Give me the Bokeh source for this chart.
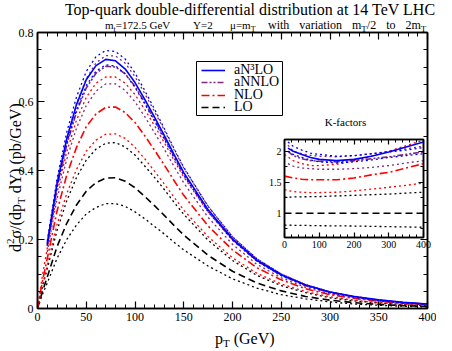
from bokeh.plotting import figure
from bokeh.models import (Range1d, LinearAxis, SingleIntervalTicker, Label,
                          Legend, LegendItem, CustomJSTickFormatter, Div, BoxAnnotation)
from bokeh.embed import file_html
from bokeh.resources import INLINE

# ---------------- data ----------------
PT = [0, 5, 10, 20, 30, 40, 50, 60, 70, 80, 90, 100, 110, 120, 130, 140, 150,
      175, 200, 225, 250, 275, 300, 325, 350, 375, 400]
PT_RES = [10, 20, 30, 40, 50, 60, 70, 80, 90, 100, 110, 120, 130, 140, 150,
          175, 200, 225, 250, 275, 300, 325, 350, 375, 400]

LO = [0, 0.049, 0.091, 0.179, 0.247, 0.300, 0.340, 0.365, 0.378, 0.379, 0.369,
      0.350, 0.325, 0.298, 0.270, 0.241, 0.213, 0.154, 0.108, 0.074, 0.051,
      0.035, 0.024, 0.017, 0.012, 0.0084, 0.0061]
LO_DN = [0, 0.040, 0.074, 0.145, 0.200, 0.242, 0.274, 0.293, 0.304, 0.304,
         0.296, 0.280, 0.260, 0.238, 0.216, 0.192, 0.170, 0.123, 0.086, 0.059,
         0.040, 0.028, 0.019, 0.013, 0.0094, 0.0065, 0.0047]
LO_UP = [0, 0.062, 0.115, 0.226, 0.312, 0.380, 0.430, 0.462, 0.479, 0.481,
         0.468, 0.445, 0.413, 0.380, 0.345, 0.308, 0.273, 0.198, 0.139, 0.096,
         0.066, 0.046, 0.031, 0.022, 0.016, 0.011, 0.0082]
NLO = [0, 0.078, 0.145, 0.282, 0.387, 0.467, 0.527, 0.564, 0.583, 0.584, 0.568,
       0.539, 0.501, 0.459, 0.416, 0.371, 0.328, 0.239, 0.170, 0.118, 0.083,
       0.057, 0.040, 0.029, 0.021, 0.015, 0.011]
NLO_UP = [0, 0.095, 0.174, 0.335, 0.454, 0.546, 0.612, 0.653, 0.671, 0.671,
          0.653, 0.620, 0.577, 0.530, 0.481, 0.430, 0.381, 0.280, 0.199, 0.139,
          0.098, 0.069, 0.048, 0.035, 0.025, 0.018, 0.013]
NLO_DN = [0, 0.067, 0.125, 0.243, 0.333, 0.403, 0.456, 0.488, 0.505, 0.506,
          0.493, 0.467, 0.434, 0.398, 0.361, 0.323, 0.285, 0.208, 0.147, 0.102,
          0.071, 0.049, 0.034, 0.024, 0.017, 0.012, 0.0091]
ANNLO = [0.182, 0.350, 0.474, 0.570, 0.639, 0.682, 0.702, 0.700, 0.680, 0.644,
         0.597, 0.547, 0.495, 0.442, 0.390, 0.283, 0.200, 0.138, 0.096, 0.066,
         0.046, 0.033, 0.023, 0.017, 0.012]
ANNLO_UP = [0.191, 0.364, 0.492, 0.593, 0.666, 0.712, 0.733, 0.732, 0.711,
            0.672, 0.623, 0.571, 0.517, 0.461, 0.407, 0.296, 0.208, 0.144,
            0.100, 0.069, 0.048, 0.034, 0.024, 0.017, 0.013]
ANNLO_DN = [0.164, 0.317, 0.433, 0.523, 0.588, 0.630, 0.651, 0.651, 0.632,
            0.599, 0.556, 0.510, 0.462, 0.412, 0.364, 0.264, 0.186, 0.128,
            0.089, 0.061, 0.042, 0.030, 0.022, 0.015, 0.011]
AN3LO = [0.187, 0.361, 0.492, 0.591, 0.663, 0.704, 0.722, 0.718, 0.694, 0.655,
         0.606, 0.555, 0.502, 0.447, 0.394, 0.286, 0.202, 0.140, 0.098, 0.068,
         0.048, 0.035, 0.025, 0.018, 0.013]
AN3LO_UP = [0.196, 0.376, 0.511, 0.613, 0.687, 0.730, 0.748, 0.745, 0.723,
            0.683, 0.632, 0.578, 0.522, 0.464, 0.409, 0.296, 0.208, 0.144,
            0.100, 0.069, 0.048, 0.034, 0.024, 0.017, 0.013]
AN3LO_DN = [0.182, 0.352, 0.479, 0.576, 0.646, 0.688, 0.706, 0.703, 0.680,
            0.641, 0.593, 0.543, 0.491, 0.437, 0.386, 0.280, 0.198, 0.137,
            0.095, 0.066, 0.046, 0.033, 0.023, 0.016, 0.012]

# inset: K-factors (ratio to LO central)
K_PT_RES = [10, 25, 50, 75, 100, 150, 200, 250, 300, 350, 400]
K_PT_FO = [0, 25, 50, 75, 100, 150, 200, 250, 300, 350, 400]
K_AN3LO = [2.05, 2.0, 1.95, 1.90, 1.87, 1.85, 1.87, 1.92, 1.99, 2.07, 2.15]
K_AN3LO_UP = [2.15, 2.08, 2.02, 1.97, 1.95, 1.92, 1.93, 1.96, 1.99, 2.02, 2.06]
K_AN3LO_DN = [2.0, 1.95, 1.90, 1.86, 1.83, 1.81, 1.83, 1.86, 1.90, 1.93, 1.96]
K_ANNLO = [2.0, 1.93, 1.88, 1.85, 1.84, 1.83, 1.85, 1.88, 1.91, 1.95, 1.99]
K_ANNLO_UP = [2.1, 2.0, 1.96, 1.935, 1.92, 1.91, 1.93, 1.96, 2.0, 2.04, 2.08]
K_ANNLO_DN = [1.8, 1.76, 1.73, 1.72, 1.71, 1.71, 1.72, 1.74, 1.77, 1.81, 1.85]
K_NLO = [1.6, 1.57, 1.55, 1.54, 1.54, 1.54, 1.57, 1.62, 1.66, 1.73, 1.80]
K_NLO_UP = [1.95, 1.85, 1.80, 1.77, 1.77, 1.79, 1.84, 1.92, 2.0, 2.09, 2.18]
K_NLO_DN = [1.38, 1.35, 1.34, 1.335, 1.335, 1.34, 1.36, 1.39, 1.42, 1.45, 1.49]
K_LO = [1.0, 1.0, 1.0, 1.0, 1.0, 1.0, 1.0, 1.0, 1.0, 1.0, 1.0]
K_LO_UP = [1.26, 1.263, 1.266, 1.268, 1.27, 1.28, 1.29, 1.30, 1.31, 1.325, 1.34]
K_LO_DN = [0.81, 0.807, 0.805, 0.803, 0.80, 0.798, 0.795, 0.79, 0.785, 0.78, 0.775]

LEGEND_LABELS = ["aN\u00b3LO", "aNNLO", "NLO", "LO"]

# ---------------- styles ----------------
SERIF = "Liberation Serif"
BLUE, RED, PURPLE, BLACK = "#0000ff", "#ff0000", "#7d2a7d", "#000000"
DOT = "2 3"
DASH = "7 4"
DASHDOT = "8 3 2 3"
DASHDOTDOT = "6 2 2 2 2 2"

# main frame position on the page (image px)
FL, FR, FT, FB = 45, 435, 40, 316


def dx(x):
    return (x - FL) * 400.0 / (FR - FL)


def dy(y):
    return (FB - y) * 0.8 / (FB - FT)


def style_axis(ax, tin, mtin, size, show=True, standoff=4):
    ax.axis_line_color = "black"
    ax.axis_line_width = 1.5
    ax.major_tick_in = tin
    ax.major_tick_out = 0
    ax.minor_tick_in = mtin
    ax.minor_tick_out = 0
    ax.major_tick_line_color = "black"
    ax.minor_tick_line_color = "black"
    ax.major_tick_line_width = 1.2
    ax.minor_tick_line_width = 1
    ax.major_label_text_font = SERIF
    ax.major_label_text_font_size = size
    ax.major_label_text_color = "black"
    ax.major_label_standoff = standoff
    if not show:
        ax.formatter = CustomJSTickFormatter(code="return ''")
        ax.major_label_standoff = 0


p = figure(width=436, height=335, x_range=Range1d(0, 400), y_range=Range1d(0, 0.8),
           output_backend="svg", toolbar_location=None,
           min_border_left=FL - 8, min_border_right=444 - FR,
           min_border_top=FT - 8, min_border_bottom=343 - FB,
           x_axis_type=None, y_axis_type=None)
p.outline_line_color = "black"
p.outline_line_width = 1.5
p.background_fill_color = "white"
p.border_fill_color = "white"

xt = SingleIntervalTicker(interval=50, num_minor_ticks=5)
yt = SingleIntervalTicker(interval=0.2, num_minor_ticks=4)
for side, tk, show in [("below", xt, True), ("above", xt, False),
                       ("left", yt, True), ("right", yt, False)]:
    ax = LinearAxis(ticker=tk)
    style_axis(ax, 7, 4, "12px", show)
    if side == "left":
        ax.major_label_overrides = {0: "0"}
    p.add_layout(ax, side)

W_DOT, W_MAIN = 1.3, 1.6
p.line(PT, LO_DN, line_color=BLACK, line_dash=DOT, line_width=W_DOT)
p.line(PT, LO_UP, line_color=BLACK, line_dash=DOT, line_width=W_DOT)
r_lo = p.line(PT, LO, line_color=BLACK, line_dash=DASH, line_width=W_MAIN)
p.line(PT, NLO_DN, line_color=RED, line_dash=DOT, line_width=W_DOT)
p.line(PT, NLO_UP, line_color=RED, line_dash=DOT, line_width=W_DOT)
r_nlo = p.line(PT, NLO, line_color=RED, line_dash=DASHDOT, line_width=W_MAIN)
p.line(PT_RES, ANNLO_DN, line_color=PURPLE, line_dash=DOT, line_width=W_DOT)
p.line(PT_RES, ANNLO_UP, line_color=PURPLE, line_dash=DOT, line_width=W_DOT)
r_annlo = p.line(PT_RES, ANNLO, line_color=PURPLE, line_dash=DASHDOTDOT, line_width=W_MAIN)
p.line(PT_RES, AN3LO_DN, line_color=BLUE, line_dash=DOT, line_width=W_DOT)
p.line(PT_RES, AN3LO_UP, line_color=BLUE, line_dash=DOT, line_width=W_DOT)
r_an3lo = p.line(PT_RES, AN3LO, line_color=BLUE, line_width=W_MAIN)

# legend frame (box drawn separately so the rows can sit tightly)
LB_L, LB_R, LB_T, LB_B = 204, 290, 69, 123
p.add_layout(BoxAnnotation(left=dx(LB_L), right=dx(LB_R), top=dy(LB_T), bottom=dy(LB_B),
                           fill_color="white", fill_alpha=1.0,
                           line_color="black", line_width=1, line_alpha=1.0))

# one borderless legend per row, so the rows can be set about 12.4 px apart
ROW_H = 20
ROW_CENTERS = [78, 90.4, 102.8, 115.2]
for lbl, rend, cy in zip(LEGEND_LABELS, [r_an3lo, r_annlo, r_nlo, r_lo], ROW_CENTERS):
    lg = Legend(items=[LegendItem(label=lbl, renderers=[rend])],
                location=(209 - FL, int(round(FB - (cy + ROW_H / 2)))))
    lg.border_line_color = None
    lg.background_fill_alpha = 0
    lg.label_text_font = SERIF
    lg.label_text_font_size = "14px"
    lg.label_text_color = "black"
    lg.glyph_width = 24
    lg.glyph_height = ROW_H
    lg.label_height = ROW_H
    lg.label_standoff = 9
    lg.padding = 0
    lg.spacing = 0
    lg.margin = 0
    p.add_layout(lg, "center")

# inset title (inside the main frame)
p.add_layout(Label(x=dx(353), y=dy(129), text="K-factors", text_font=SERIF,
                   text_font_size="11px", text_align="center",
                   text_baseline="alphabetic", text_color="black"))

# ---------------- inset ----------------
IL, IR, IT, IB = 284, 423, 139, 237
q_left, q_top = IL - 22, IT - 4
q = figure(width=22 + (IR - IL) + 10, height=4 + (IB - IT) + 16,
           x_range=Range1d(0, 400), y_range=Range1d(0.61, 2.19),
           output_backend="svg", toolbar_location=None,
           min_border_left=22, min_border_right=10, min_border_top=4, min_border_bottom=16,
           x_axis_type=None, y_axis_type=None,
           styles={"position": "absolute", "left": f"{q_left}px", "top": f"{q_top}px"})
q.outline_line_color = "black"
q.outline_line_width = 1.5
q.background_fill_color = "white"
q.border_fill_color = None

ixt = SingleIntervalTicker(interval=100, num_minor_ticks=5)
iyt = SingleIntervalTicker(interval=0.5, num_minor_ticks=2)
for side, tk, show in [("below", ixt, True), ("above", ixt, False),
                       ("left", iyt, True), ("right", iyt, False)]:
    ax = LinearAxis(ticker=tk)
    style_axis(ax, 5, 3, "10px", show, standoff=3)
    if side == "left":
        ax.major_label_overrides = {1: "1", 2: "2"}
    q.add_layout(ax, side)

q.line(K_PT_FO, K_LO_DN, line_color=BLACK, line_dash=DOT, line_width=W_DOT)
q.line(K_PT_FO, K_LO_UP, line_color=BLACK, line_dash=DOT, line_width=W_DOT)
q.line(K_PT_FO, K_LO, line_color=BLACK, line_dash=DASH, line_width=W_MAIN)
q.line(K_PT_FO, K_NLO_DN, line_color=RED, line_dash=DOT, line_width=W_DOT)
q.line(K_PT_FO, K_NLO_UP, line_color=RED, line_dash=DOT, line_width=W_DOT)
q.line(K_PT_FO, K_NLO, line_color=RED, line_dash=DASHDOT, line_width=W_MAIN)
q.line(K_PT_RES, K_ANNLO_DN, line_color=PURPLE, line_dash=DOT, line_width=W_DOT)
q.line(K_PT_RES, K_ANNLO_UP, line_color=PURPLE, line_dash=DOT, line_width=W_DOT)
q.line(K_PT_RES, K_ANNLO, line_color=PURPLE, line_dash=DASHDOTDOT, line_width=W_MAIN)
q.line(K_PT_RES, K_AN3LO_DN, line_color=BLUE, line_dash=DOT, line_width=W_DOT)
q.line(K_PT_RES, K_AN3LO_UP, line_color=BLUE, line_dash=DOT, line_width=W_DOT)
q.line(K_PT_RES, K_AN3LO, line_color=BLUE, line_width=W_MAIN)


# ---------------- texts outside the frame (HTML, absolutely placed) ----------------
def text_div(html, left, baseline, size, extra=None):
    # line-height 1: baseline sits 0.8375 em below the box top for Liberation Serif
    top = baseline - 0.8375 * size
    st = {"position": "absolute", "left": f"{left}px", "top": f"{top:.1f}px",
          "font-family": SERIF, "font-size": f"{size}px", "line-height": "1",
          "white-space": "nowrap", "color": "black"}
    if extra:
        st.update(extra)
    return Div(text=html, margin=(0, 0, 0, 0), styles=st)


def sub(t, size):
    return f'<span style="font-size:{size}px;position:relative;top:{size * 0.35:.1f}px">{t}</span>'


def sup(t, size):
    return f'<span style="font-size:{size}px;position:relative;top:-{size * 0.6:.1f}px">{t}</span>'


divs = [
    text_div("Top-quark double-differential distribution at 14 TeV LHC", 30, 15.5, 16,
             {"width": "440px", "text-align": "center"}),
    text_div("m" + sub("t", 8) + "=172.5 GeV", 105, 29, 11),
    text_div("Y=2", 193, 29, 11),
    text_div("\u03bc=m" + sub("T", 8), 230, 29, 11),
    text_div("with variation m" + sub("T", 9) + "/2 to 2m" + sub("T", 9), 268, 29, 12,
             {"word-spacing": "7px"}),
    text_div("p" + sub("T", 11) + " (GeV)", 215, 344, 16),
    text_div("d" + sup("2", 11) + "\u03c3/(dp" + sub("T", 11) + " dY) (pb/GeV)",
             21 - 0.8375 * 16, 252, 16,
             {"transform": "rotate(-90deg)", "transform-origin": "0 0",
              "top": "252px"}),
]

open("out.html", "w").write(file_html([p, q] + divs, INLINE))
